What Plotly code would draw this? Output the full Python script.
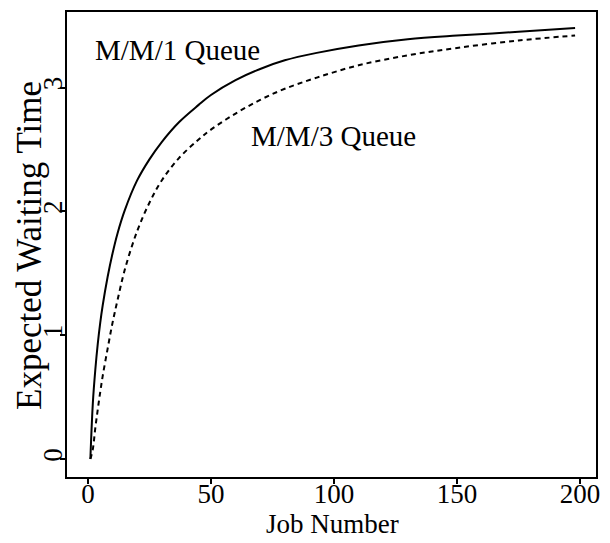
import plotly.graph_objects as go

# Expected waiting time of the n-th job, single-server vs three-server queue
jobs_mm1 = [1, 2, 3, 4, 5, 6, 8, 10, 12, 15, 20, 25, 30, 37, 45, 50, 60, 70, 80, 93, 110, 130, 150, 175, 198]
wait_mm1 = [0, 0.45, 0.72, 0.93, 1.10, 1.24, 1.47, 1.66, 1.82, 2.01, 2.25, 2.42, 2.56, 2.72, 2.86, 2.94,
            3.06, 3.15, 3.22, 3.28, 3.34, 3.39, 3.42, 3.45, 3.48]

jobs_mm3 = [1, 2, 3, 4, 5, 6, 8, 10, 12, 15, 20, 25, 30, 37, 45, 50, 60, 70, 80, 93, 110, 130, 150, 175, 198]
wait_mm3 = [0, 0.08, 0.25, 0.40, 0.54, 0.67, 0.89, 1.10, 1.28, 1.53, 1.84, 2.07, 2.25, 2.43, 2.58, 2.66,
            2.79, 2.90, 2.99, 3.08, 3.18, 3.26, 3.32, 3.38, 3.42]

x_ticks = [0, 50, 100, 150, 200]
y_ticks = [0, 1, 2, 3]

FONT = "Liberation Serif, Times New Roman, serif"

fig = go.Figure()
fig.add_trace(go.Scatter(
    x=jobs_mm1, y=wait_mm1, mode="lines", line_shape="spline",
    line=dict(color="black", width=2), showlegend=False, hoverinfo="skip",
))
fig.add_trace(go.Scatter(
    x=jobs_mm3, y=wait_mm3, mode="lines", line_shape="spline",
    line=dict(color="black", width=2, dash="5px,4px"), showlegend=False, hoverinfo="skip",
))

axis_common = dict(
    showline=True, linecolor="black", linewidth=2, mirror=True,
    ticks="outside", ticklen=5, tickwidth=1.5, tickcolor="black",
    showgrid=False, zeroline=False,
    tickfont=dict(family=FONT, size=27, color="black"),
)

fig.update_xaxes(range=[-8.5, 206.5], tickvals=x_ticks, ticklabelstandoff=-13, **axis_common)
fig.update_yaxes(range=[-0.145, 3.61], tickvals=y_ticks, tickangle=-90, ticklabelstandoff=-13, **axis_common)

annotations = [
    dict(text="M/M/1 Queue", x=36.6, y=3.30, xref="x", yref="y", showarrow=False,
         xanchor="center", yanchor="middle",
         font=dict(family=FONT, size=29, color="black")),
    dict(text="M/M/3 Queue", x=100, y=2.61, xref="x", yref="y", showarrow=False,
         xanchor="center", yanchor="middle",
         font=dict(family=FONT, size=29, color="black")),
    dict(text="Job Number", x=(332 - 67) / 529, y=(477 - 524) / 467, xref="paper", yref="paper",
         xanchor="center", yanchor="middle",
         showarrow=False, font=dict(family=FONT, size=27, color="black")),
    dict(text="Expected Waiting Time", x=(30 - 67) / 529, y=(477 - 245) / 467,
         xref="paper", yref="paper", showarrow=False, textangle=-90,
         xanchor="center", yanchor="middle",
         font=dict(family=FONT, size=35, color="black")),
]

fig.update_layout(
    width=610, height=543,
    margin=dict(l=67, r=14, t=10, b=66),
    paper_bgcolor="white", plot_bgcolor="white",
    annotations=annotations,
)

fig.write_html("out.html")
